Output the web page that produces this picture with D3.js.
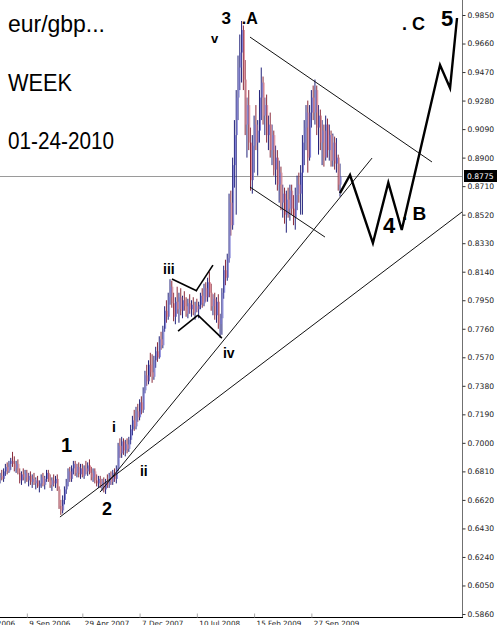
<!DOCTYPE html>
<html>
<head>
<meta charset="utf-8">
<script src="https://cdn.jsdelivr.net/npm/d3@7"></script>
<style>
  body { margin: 0; background: #fff; }
  svg { display: block; }
</style>
</head>
<body>
<div id="vis-container"></div>
<script>
// weekly EUR/GBP bars, oldest first
const opens = [
  .677,.678,.676,.681,.684,.681,.686,.688,.686,.683,
  .686,.680,.675,.679,.677,.680,.675,.678,.674,.676,
  .673,.675,.671,.673,.677,.672,.676,.680,.675,.672,
  .675,.673,.676,.669,.658,.655,.662,.669,.674,.681,
  .676,.683,.686,.680,.684,.679,.683,.678,.683,.681,
  .685,.680,.677,.681,.675,.673,.676,.671,.674,.669,
  .674,.672,.678,.674,.680,.676,.683,.698,.693,.701,
  .695,.699,.696,.702,.709,.715,.711,.721,.717,.727,
  .722,.735,.745,.741,.752,.747,.744,.755,.761,.757,
  .769,.765,.776,.788,.784,.797,.804,.793,.784,.794,
  .789,.797,.788,.795,.791,.786,.793,.789,.792,.787,
  .791,.789,.792,.798,.793,.803,.797,.807,.800,.791,
  .796,.785,.794,.779,.783,.800,.815,.810,.823,.860,
  .845,.885,.905,.930,.950,.960,.975,.942,.912,.925,
  .900,.875,.898,.912,.900,.908,.930,.940,.918,.925,
  .905,.912,.895,.905,.882,.890,.872,.880,.860,.866,
  .852,.862,.856,.868,.856,.850,.865,.872,.866,.880,
  .900,.910,.920,.890,.920,.930,.920,.935,.910,.918,
  .900,.908,.890,.912,.895,.905,.888,.900,.886,.890,
  .872];
const highs = [
  .680,.682,.683,.686,.687,.688,.690,.694,.691,.688,
  .689,.683,.681,.683,.682,.682,.680,.681,.679,.680,
  .677,.678,.675,.679,.680,.678,.682,.682,.679,.677,
  .679,.678,.679,.671,.662,.665,.671,.676,.683,.684,
  .685,.688,.688,.686,.687,.686,.686,.685,.688,.687,
  .689,.684,.683,.683,.679,.678,.678,.676,.677,.676,
  .679,.680,.681,.682,.683,.685,.700,.703,.704,.703,
  .702,.703,.704,.712,.718,.722,.724,.726,.729,.731,
  .737,.748,.752,.755,.760,.759,.758,.764,.767,.771,
  .774,.778,.791,.795,.800,.809,.808,.800,.797,.804,
  .800,.803,.798,.801,.797,.796,.799,.795,.797,.794,
  .796,.794,.800,.803,.806,.807,.810,.814,.806,.799,
  .800,.797,.799,.786,.803,.818,.822,.826,.866,.868,
  .890,.915,.935,.958,.972,.981,.978,.955,.930,.935,
  .910,.905,.918,.925,.915,.935,.950,.944,.930,.932,
  .918,.920,.912,.908,.898,.895,.888,.884,.872,.870,
  .868,.870,.872,.872,.865,.870,.878,.880,.885,.905,
  .915,.925,.928,.925,.935,.938,.942,.938,.925,.922,
  .915,.912,.918,.916,.912,.908,.906,.904,.903,.892,
  .886];
const lows = [
  .673,.675,.674,.678,.679,.680,.682,.684,.681,.680,
  .679,.673,.672,.675,.673,.674,.671,.672,.670,.672,
  .669,.670,.667,.670,.671,.669,.674,.674,.670,.668,
  .671,.670,.668,.656,.652,.653,.659,.666,.671,.674,
  .674,.679,.678,.677,.677,.676,.677,.676,.679,.678,
  .679,.675,.674,.673,.671,.670,.670,.668,.667,.666,
  .670,.670,.672,.672,.674,.673,.681,.690,.690,.692,
  .691,.693,.694,.699,.705,.708,.709,.714,.715,.719,
  .720,.733,.738,.739,.744,.740,.742,.750,.754,.756,
  .762,.763,.774,.780,.782,.792,.790,.781,.779,.786,
  .780,.785,.783,.788,.784,.783,.786,.784,.785,.782,
  .787,.783,.789,.790,.791,.794,.794,.797,.788,.785,
  .782,.780,.776,.770,.772,.796,.805,.808,.820,.838,
  .842,.870,.852,.915,.935,.940,.935,.905,.890,.895,
  .868,.866,.880,.895,.878,.900,.915,.912,.905,.900,
  .895,.890,.885,.878,.872,.868,.860,.855,.850,.846,
  .840,.850,.848,.852,.845,.842,.855,.860,.852,.852,
  .885,.895,.880,.888,.910,.915,.912,.905,.892,.895,
  .885,.884,.888,.890,.888,.884,.884,.882,.880,.868,
  .864];
const closes = [
  .678,.676,.681,.684,.681,.686,.688,.686,.683,.686,
  .680,.675,.679,.677,.680,.675,.678,.674,.676,.673,
  .675,.671,.673,.677,.672,.676,.680,.675,.672,.675,
  .673,.676,.669,.658,.655,.662,.669,.674,.681,.676,
  .683,.686,.680,.684,.679,.683,.678,.683,.681,.685,
  .680,.677,.681,.675,.673,.676,.671,.674,.669,.674,
  .672,.678,.674,.680,.676,.683,.698,.693,.701,.695,
  .699,.696,.702,.709,.715,.711,.721,.717,.727,.722,
  .735,.745,.741,.752,.747,.744,.755,.761,.757,.769,
  .765,.776,.788,.784,.797,.804,.793,.784,.794,.789,
  .797,.788,.795,.791,.786,.793,.789,.792,.787,.791,
  .789,.792,.798,.793,.803,.797,.807,.800,.791,.796,
  .785,.794,.779,.783,.800,.815,.810,.823,.860,.845,
  .885,.905,.930,.950,.960,.975,.942,.912,.925,.900,
  .875,.898,.912,.900,.908,.930,.940,.918,.925,.905,
  .912,.895,.905,.882,.890,.872,.880,.860,.866,.852,
  .862,.856,.868,.856,.850,.865,.872,.866,.880,.900,
  .910,.920,.890,.920,.930,.920,.935,.910,.918,.900,
  .908,.890,.912,.895,.905,.888,.900,.886,.890,.872,
  .8775];

const lastPrice = 0.8775;

// right axis labels
const priceTicks = [0.9850, 0.9660, 0.9470, 0.9280, 0.9090, 0.8900, 0.8710, 0.8520,
  0.8330, 0.8140, 0.7950, 0.7760, 0.7570, 0.7380, 0.7190, 0.7000, 0.6810,
  0.6620, 0.6430, 0.6240, 0.6050, 0.5860];

// bottom axis labels (bar index of each)
const dateTicks = [-17, 15, 46, 78, 110, 142, 174];
const dateLabels = ["29 Jan 2006", "9 Sep 2006", "29 Apr 2007", "7 Dec 2007",
  "10 Jul 2008", "15 Feb 2009", "27 Sep 2009"];

// thin trendlines: [bar1, price1, bar2, price2]
const trendLines = [
  [33.5, 0.6506, 258.2, 0.8538],
  [55.9, 0.6672, 207.9, 0.8897],
  [139.7, 0.9703, 241.4, 0.8871],
  [139.7, 0.8704, 181.6, 0.8371]
];

// bow-tie around wave iii / iv
const tieLines = [
  [96.1, 0.8091, 110.1, 0.8011],
  [99.5, 0.7745, 110.6, 0.7851],
  [109.5, 0.8011, 119.0, 0.8184],
  [110.6, 0.7851, 124.0, 0.7698]
];

// projected path (4, B, C, 5)
const projBars = [190, 195.6, 208.4, 217.0, 224.5, 245.9, 251.5, 255.4];
const projPrices = [0.8664, 0.8784, 0.8331, 0.8733, 0.8418, 0.9517, 0.9364, 0.9830];

// wave labels
const waveText = ["1", "2", "i", "ii", "iii", "iv", "v", "3", ".A", "4", ". B", ". C", "5"];
const waveBars = [34.1, 57.0, 62.6, 78.2, 91.1, 124.6, 117.9, 123.8, 135.1, 214.0, 224.6, 224.6, 246.4];
const wavePrices = [0.6939, 0.6519, 0.7070, 0.6779, 0.8123, 0.7565, 0.9663, 0.9790, 0.9790, 0.8397, 0.8484, 0.9750, 0.9780];
const waveSizes = [20, 18, 14, 14, 14, 14, 13, 17, 16, 22, 19, 18, 22];

const titleLines = ["eur/gbp...", "WEEK", "01-24-2010"];
const titleWidths = [97, 64, 106];

const width = 499;
const height = 625;
const axisX = 462;
const axisY = 617.5;

const svg = d3.select("#vis-container")
  .append("svg")
  .attr("width", width)
  .attr("height", height)
  .style("font-family", "'Liberation Sans', Arial, sans-serif");

svg.append("rect").attr("width", width).attr("height", height).attr("fill", "#fff");

const x = d3.scaleLinear().domain([0, 190]).range([0, 340]);
const y = d3.scaleLinear().domain([0.586, 0.985]).range([614, 15]);

// current price line
svg.append("line")
  .attr("x1", 0).attr("x2", axisX)
  .attr("y1", Math.round(y(lastPrice)) + 0.5).attr("y2", Math.round(y(lastPrice)) + 0.5)
  .attr("stroke", "#9a9a9a").attr("stroke-width", 1);

// bars
const bars = d3.range(opens.length).map(i => ({
  i: i, o: opens[i], h: highs[i], l: lows[i], c: closes[i]
}));

const g = svg.append("g");
g.selectAll(".wick")
  .data(bars)
  .enter()
  .append("line")
  .attr("class", "wick")
  .attr("x1", d => x(d.i)).attr("x2", d => x(d.i))
  .attr("y1", d => y(d.h)).attr("y2", d => y(d.l))
  .attr("stroke", d => d.c >= d.o ? "#22227a" : "#8a2a3a")
  .attr("stroke-width", 1);

g.selectAll(".body")
  .data(bars)
  .enter()
  .append("rect")
  .attr("class", "body")
  .attr("x", d => x(d.i) + 0.5)
  .attr("y", d => y(Math.max(d.o, d.c)))
  .attr("width", 1)
  .attr("height", d => Math.max(1, Math.abs(y(d.o) - y(d.c))))
  .attr("fill", d => d.c >= d.o ? "#7a7ad6" : "#de8a96");

// trendlines
svg.selectAll(".trend")
  .data(trendLines)
  .enter()
  .append("line")
  .attr("class", "trend")
  .attr("x1", d => x(d[0])).attr("y1", d => y(d[1]))
  .attr("x2", d => x(d[2])).attr("y2", d => y(d[3]))
  .attr("stroke", "#111").attr("stroke-width", 1);

svg.selectAll(".tie")
  .data(tieLines)
  .enter()
  .append("line")
  .attr("class", "tie")
  .attr("x1", d => x(d[0])).attr("y1", d => y(d[1]))
  .attr("x2", d => x(d[2])).attr("y2", d => y(d[3]))
  .attr("stroke", "#000").attr("stroke-width", 1.6);

// projection
const proj = projBars.map((b, i) => [b, projPrices[i]]);
svg.append("path")
  .attr("d", d3.line().x(d => x(d[0])).y(d => y(d[1]))(proj))
  .attr("fill", "none")
  .attr("stroke", "#000")
  .attr("stroke-width", 2.4)
  .attr("stroke-linejoin", "miter");

// wave labels
svg.selectAll(".wave")
  .data(waveText)
  .enter()
  .append("text")
  .attr("class", "wave")
  .attr("x", (d, i) => x(waveBars[i]))
  .attr("y", (d, i) => y(wavePrices[i]))
  .attr("font-size", (d, i) => waveSizes[i] + "px")
  .attr("font-weight", "bold")
  .attr("fill", "#000")
  .text(d => d);

// title block
svg.selectAll(".title")
  .data(titleLines)
  .enter()
  .append("text")
  .attr("class", "title")
  .attr("x", 8)
  .attr("y", (d, i) => 32 + i * 58.5)
  .attr("font-size", "24px")
  .attr("textLength", (d, i) => titleWidths[i])
  .attr("lengthAdjust", "spacingAndGlyphs")
  .attr("fill", "#000")
  .text(d => d);

// right price axis
svg.append("line")
  .attr("x1", axisX + 0.5).attr("x2", axisX + 0.5)
  .attr("y1", 0).attr("y2", axisY)
  .attr("stroke", "#707070");

svg.append("g")
  .attr("transform", `translate(${axisX + 0.5},0)`)
  .call(d3.axisRight(y).tickValues(priceTicks).tickFormat(d3.format(".4f")).tickSize(3).tickPadding(2))
  .call(a => a.select(".domain").remove())
  .call(a => a.selectAll("line").attr("stroke", "#333"))
  .call(a => a.selectAll("text")
    .attr("font-family", "'DejaVu Sans', sans-serif")
    .attr("font-size", "7.6px")
    .attr("fill", "#222"));

// bottom date axis
svg.append("line")
  .attr("x1", 0).attr("x2", axisX + 1)
  .attr("y1", axisY).attr("y2", axisY)
  .attr("stroke", "#000");

svg.append("g")
  .attr("transform", `translate(0,${axisY})`)
  .call(d3.axisBottom(x).tickValues(dateTicks).tickFormat((d, i) => dateLabels[i]).tickSize(-4).tickPadding(3))
  .call(a => a.select(".domain").remove())
  .call(a => a.selectAll("line").attr("stroke", "#aaa"))
  .call(a => a.selectAll("text")
    .attr("text-anchor", "start")
    .attr("dx", 2)
    .attr("font-family", "'DejaVu Sans', sans-serif")
    .attr("font-size", "7.2px")
    .attr("fill", "#222"));

// current price tag
const tagY = Math.round(y(lastPrice));
svg.append("rect")
  .attr("x", axisX + 2).attr("y", tagY - 6)
  .attr("width", 33).attr("height", 12)
  .attr("fill", "#000");
svg.append("text")
  .attr("x", axisX + 5).attr("y", tagY + 3)
  .attr("font-family", "'DejaVu Sans', sans-serif")
  .attr("font-size", "7.6px")
  .attr("fill", "#fff")
  .text(d3.format(".4f")(lastPrice));
</script>
</body>
</html>
